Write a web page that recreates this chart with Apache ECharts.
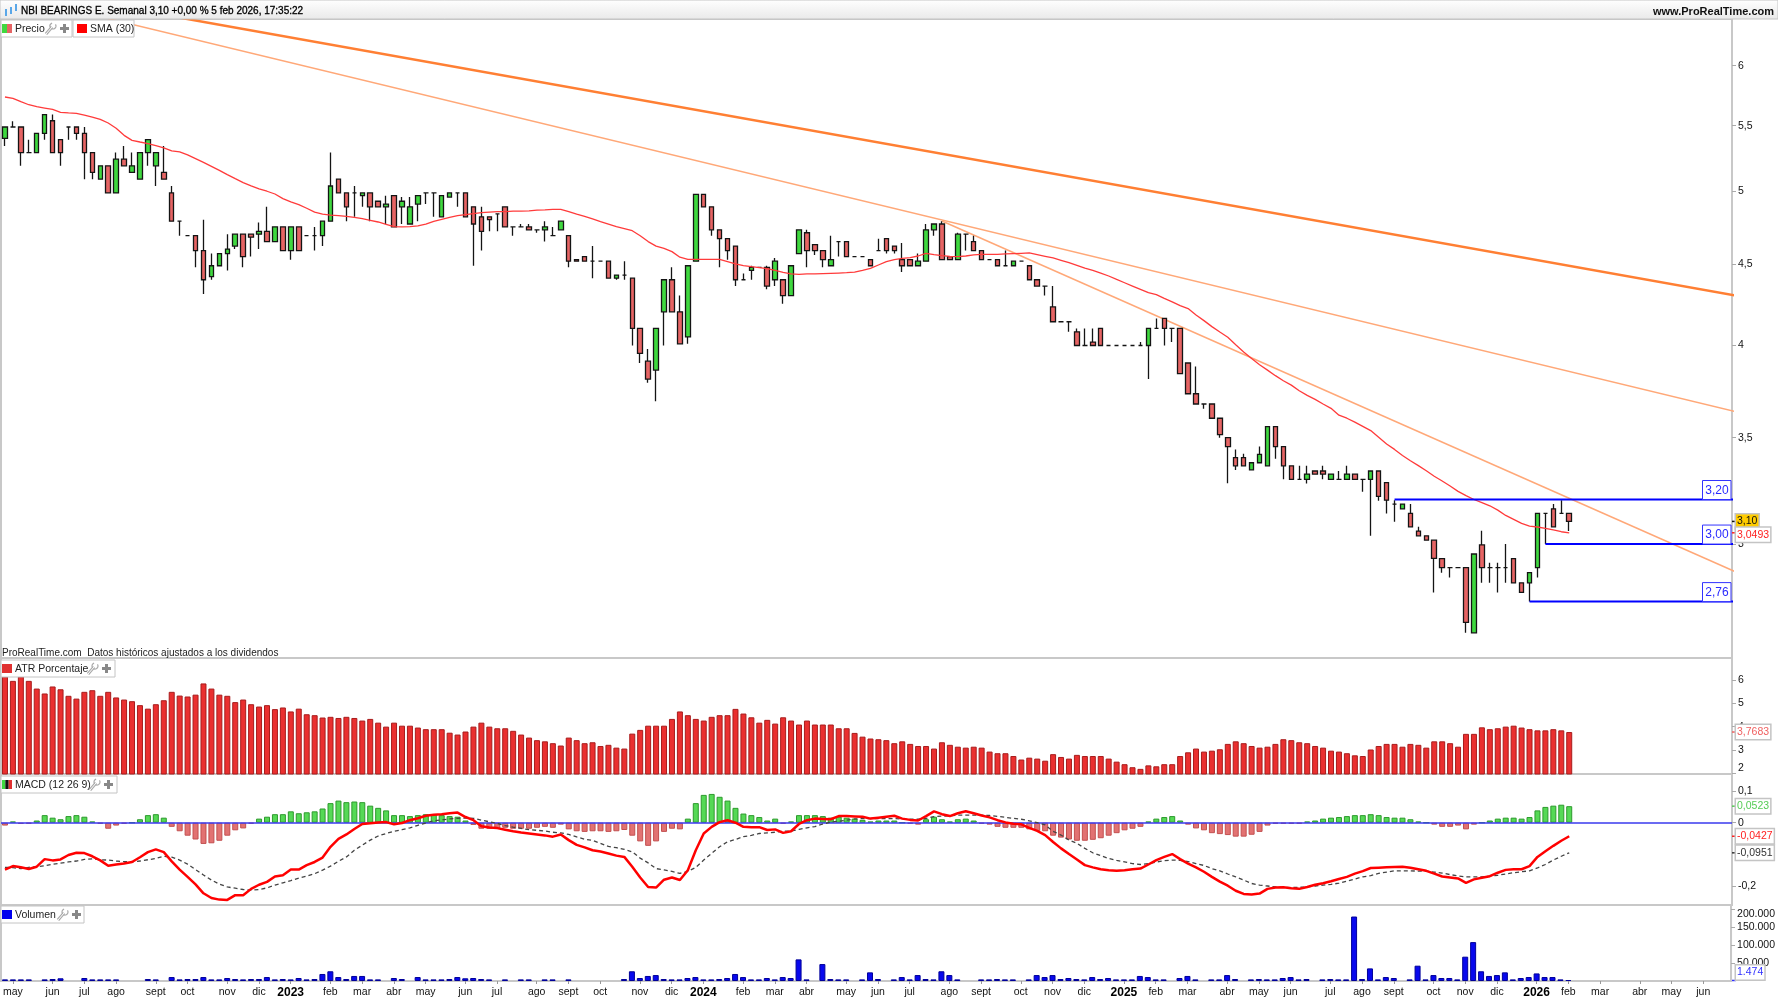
<!DOCTYPE html>
<html>
<head>
<meta charset="utf-8">
<title>NBI BEARINGS E.</title>
<script src="https://cdn.jsdelivr.net/npm/echarts@6/dist/echarts.min.js"></script>
<style>
html,body{margin:0;padding:0;background:#fff;}
#main{width:1778px;height:1000px;}
</style>
</head>
<body>
<div id="main"></div>
<script>
// semanal, una vela por semana desde may 2022
var opens=[5.40,5.49,5.49,5.29,5.29,5.44,5.54,5.39,5.49,5.49,
5.44,5.29,5.09,5.19,4.99,5.24,5.14,5.09,5.29,5.19,
5.14,4.99,4.79,4.69,4.69,4.59,4.42,4.49,4.57,4.62,
4.70,4.70,4.70,4.72,4.65,4.75,4.59,4.75,4.69,4.69,
4.69,4.79,5.09,4.99,4.99,4.97,4.99,4.93,4.89,4.97,
4.89,4.77,4.91,4.99,4.99,4.82,4.96,4.99,4.99,4.89,
4.82,4.82,4.84,4.89,4.75,4.75,4.75,4.73,4.73,4.69,
4.73,4.69,4.53,4.55,4.52,4.52,4.52,4.41,4.43,4.41,
4.10,3.91,3.86,4.20,4.40,4.20,4.05,4.52,4.98,4.89,
4.73,4.67,4.62,4.40,4.46,4.48,4.48,4.40,4.40,4.30,
4.57,4.71,4.63,4.59,4.49,4.65,4.65,4.55,4.55,4.53,
4.59,4.67,4.62,4.53,4.53,4.49,4.52,4.73,4.77,4.55,
4.53,4.70,4.65,4.59,4.53,4.53,4.49,4.49,4.52,4.49,
4.40,4.36,4.23,4.14,4.14,4.08,4.00,4.02,4.10,4.00,
4.00,4.00,4.00,4.00,4.00,4.10,4.16,4.10,4.10,3.90,
3.73,3.675,3.675,3.60,3.50,3.40,3.40,3.34,3.375,3.36,
3.556,3.455,3.36,3.295,3.295,3.335,3.335,3.295,3.295,3.295,
3.32,3.295,3.295,3.335,3.279,3.179,3.157,3.136,3.057,3.036,
3.017,2.937,2.899,2.899,2.899,2.638,2.996,2.899,2.899,2.899,
2.937,2.836,2.836,2.899,3.136,3.157,3.136,3.136];
var closes=[5.49,5.49,5.29,5.29,5.44,5.59,5.29,5.29,5.49,5.44,
5.29,5.14,5.19,4.99,5.24,5.19,5.19,5.29,5.39,5.29,
5.09,4.79,4.79,4.69,4.59,4.40,4.49,4.57,4.60,4.70,
4.55,4.68,4.72,4.65,4.75,4.59,4.75,4.59,4.69,4.69,
4.79,5.04,4.99,4.89,4.99,4.99,4.89,4.89,4.91,4.75,
4.93,4.89,4.97,4.99,4.99,4.97,4.99,4.99,4.82,4.77,
4.72,4.80,4.84,4.75,4.75,4.75,4.73,4.73,4.75,4.69,
4.79,4.52,4.52,4.52,4.52,4.52,4.41,4.43,4.43,4.10,
3.955,3.81,4.10,4.40,4.20,4.01,4.49,4.98,4.89,4.73,
4.67,4.59,4.40,4.40,4.48,4.48,4.36,4.52,4.30,4.49,
4.73,4.59,4.59,4.53,4.53,4.65,4.55,4.55,4.55,4.49,
4.59,4.59,4.59,4.49,4.49,4.52,4.73,4.77,4.53,4.53,
4.70,4.70,4.59,4.53,4.53,4.49,4.49,4.52,4.52,4.40,
4.36,4.36,4.14,4.14,4.14,4.00,4.00,4.00,4.00,4.00,
4.00,4.00,4.00,4.00,4.10,4.10,4.10,4.10,3.84,3.73,
3.675,3.675,3.60,3.515,3.455,3.36,3.36,3.375,3.416,3.556,
3.455,3.36,3.295,3.295,3.32,3.32,3.32,3.32,3.295,3.32,
3.295,3.295,3.335,3.215,3.197,3.179,3.179,3.076,3.036,3.017,
2.938,2.899,2.899,2.899,2.678,2.957,2.899,2.899,2.899,2.899,
2.836,2.797,2.878,3.136,3.136,3.076,3.136,3.10];
var lows=[5.34,5.49,5.19,5.29,5.29,5.39,5.29,5.19,5.39,5.39,
5.09,5.09,5.09,4.99,4.99,5.19,5.14,5.09,5.19,5.04,
5.09,4.79,4.69,4.69,4.48,4.31,4.40,4.49,4.46,4.60,
4.48,4.55,4.60,4.65,4.65,4.59,4.53,4.59,4.69,4.59,
4.62,4.79,4.99,4.79,4.82,4.89,4.79,4.89,4.77,4.75,
4.77,4.77,4.79,4.91,4.82,4.82,4.96,4.89,4.82,4.49,
4.59,4.72,4.72,4.75,4.69,4.75,4.73,4.71,4.65,4.69,
4.73,4.48,4.52,4.52,4.41,4.52,4.41,4.40,4.40,4.00,
3.90,3.79,3.69,4.00,4.20,4.01,4.01,4.52,4.89,4.69,
4.48,4.53,4.36,4.40,4.40,4.48,4.34,4.36,4.25,4.30,
4.57,4.48,4.56,4.48,4.49,4.55,4.55,4.55,4.55,4.49,
4.59,4.57,4.57,4.45,4.49,4.49,4.52,4.69,4.53,4.53,
4.53,4.59,4.59,4.53,4.53,4.49,4.49,4.49,4.52,4.40,
4.36,4.30,4.14,4.14,4.08,4.00,4.00,4.00,4.00,4.00,
4.00,4.00,4.00,4.00,3.81,4.10,4.00,4.02,3.84,3.73,
3.675,3.65,3.60,3.50,3.276,3.34,3.36,3.34,3.375,3.36,
3.395,3.295,3.295,3.295,3.275,3.32,3.295,3.295,3.295,3.295,
3.295,3.236,3.036,3.194,3.136,3.099,3.157,3.076,3.036,3.017,
2.797,2.878,2.858,2.899,2.638,2.638,2.836,2.836,2.797,2.836,
2.836,2.797,2.76,2.858,3.00,3.076,3.136,3.057];
var highs=[5.49,5.535,5.49,5.39,5.44,5.59,5.59,5.39,5.49,5.49,
5.49,5.29,5.19,5.19,5.29,5.34,5.29,5.29,5.39,5.29,
5.34,5.04,4.79,4.69,4.69,4.80,4.57,4.57,4.70,4.70,
4.70,4.70,4.78,4.89,4.75,4.75,4.75,4.75,4.69,4.75,
4.79,5.29,5.09,4.99,5.04,4.99,4.99,4.93,4.97,4.97,
4.96,4.96,4.97,4.99,4.99,4.97,4.99,4.99,4.99,4.89,
4.89,4.82,4.84,4.89,4.75,4.77,4.77,4.73,4.79,4.75,
4.79,4.69,4.53,4.55,4.62,4.52,4.52,4.43,4.52,4.41,
4.10,3.98,4.10,4.40,4.48,4.30,4.49,4.98,4.98,4.89,
4.73,4.67,4.62,4.44,4.49,4.48,4.49,4.54,4.40,4.49,
4.73,4.73,4.63,4.59,4.69,4.65,4.65,4.55,4.55,4.53,
4.67,4.67,4.62,4.64,4.53,4.57,4.77,4.77,4.79,4.55,
4.71,4.70,4.69,4.59,4.53,4.53,4.59,4.52,4.52,4.49,
4.40,4.36,4.36,4.14,4.14,4.10,4.10,4.10,4.10,4.00,
4.00,4.00,4.00,4.02,4.10,4.16,4.16,4.10,4.10,3.90,
3.88,3.675,3.675,3.60,3.50,3.44,3.42,3.375,3.455,3.556,
3.556,3.455,3.36,3.36,3.36,3.335,3.36,3.32,3.335,3.36,
3.32,3.295,3.335,3.335,3.279,3.197,3.179,3.179,3.076,3.036,
3.017,2.937,2.899,2.899,2.899,2.957,3.058,2.92,2.92,3.00,
2.937,2.836,2.878,3.136,3.136,3.179,3.197,3.136];
var sma30=[5.734,5.723,5.695,5.670,5.654,5.643,5.632,5.608,5.603,5.600,
5.586,5.570,5.551,5.522,5.480,5.424,5.385,5.372,5.360,5.344,
5.326,5.303,5.295,5.272,5.244,5.216,5.186,5.156,5.124,5.094,
5.065,5.041,5.019,5.002,4.982,4.949,4.925,4.906,4.880,4.853,
4.839,4.832,4.828,4.823,4.816,4.807,4.796,4.784,4.768,4.752,
4.750,4.752,4.757,4.770,4.789,4.803,4.816,4.828,4.835,4.842,
4.849,4.853,4.856,4.856,4.860,4.860,4.862,4.867,4.869,4.872,
4.872,4.856,4.839,4.823,4.805,4.787,4.770,4.752,4.738,4.724,
4.690,4.650,4.620,4.605,4.583,4.546,4.532,4.532,4.532,4.532,
4.532,4.517,4.502,4.491,4.484,4.478,4.471,4.460,4.447,4.437,
4.434,4.437,4.437,4.439,4.441,4.443,4.445,4.449,4.460,4.473,
4.495,4.517,4.530,4.539,4.543,4.554,4.572,4.563,4.557,4.552,
4.550,4.554,4.561,4.565,4.565,4.565,4.568,4.570,4.572,4.574,
4.563,4.552,4.541,4.526,4.510,4.493,4.475,4.460,4.443,4.424,
4.402,4.381,4.360,4.339,4.318,4.306,4.283,4.261,4.238,4.220,
4.181,4.147,4.111,4.079,4.048,4.005,3.963,3.925,3.890,3.860,
3.829,3.801,3.777,3.746,3.721,3.700,3.675,3.652,3.616,3.600,
3.580,3.558,3.536,3.502,3.468,3.441,3.411,3.385,3.361,3.336,
3.310,3.287,3.263,3.238,3.218,3.200,3.186,3.171,3.151,3.127,
3.109,3.091,3.079,3.075,3.069,3.062,3.054,3.0493];
var atr=[6.15,5.96,6.15,5.96,5.63,5.42,5.72,5.60,5.32,5.20,
5.49,5.56,5.32,5.49,5.25,5.16,5.09,4.92,4.77,4.96,
5.13,5.49,5.33,5.29,5.37,5.85,5.63,5.37,5.32,5.05,
5.16,4.96,4.86,4.92,4.75,4.82,4.65,4.77,4.53,4.49,
4.39,4.42,4.37,4.42,4.37,4.26,4.33,4.17,4.00,4.17,
4.04,4.04,3.96,3.89,3.89,3.89,3.74,3.66,3.79,4.00,
4.17,4.00,3.93,3.93,3.82,3.66,3.53,3.42,3.37,3.29,
3.19,3.53,3.42,3.29,3.33,3.17,3.22,3.10,3.06,3.70,
3.86,4.04,4.04,4.04,4.33,4.65,4.49,4.33,4.26,4.42,
4.49,4.49,4.76,4.56,4.40,4.17,4.29,4.13,4.40,4.26,
4.09,4.26,4.09,4.09,4.09,3.93,3.93,3.73,3.57,3.49,
3.46,3.42,3.29,3.37,3.26,3.17,3.17,3.06,3.33,3.22,
3.14,3.10,3.14,3.10,2.93,2.86,2.86,2.74,2.59,2.67,
2.63,2.54,2.82,2.70,2.63,2.79,2.74,2.74,2.74,2.63,
2.50,2.39,2.26,2.19,2.34,2.30,2.39,2.39,2.74,2.90,
3.06,2.93,2.97,3.03,3.26,3.37,3.29,3.17,3.10,3.14,
3.26,3.46,3.42,3.33,3.29,3.17,3.10,2.97,2.93,2.86,
2.77,2.74,3.02,3.17,3.26,3.26,3.14,3.26,3.22,3.10,
3.37,3.37,3.29,3.14,3.69,3.69,3.97,3.89,3.93,4.00,
4.04,3.96,3.89,3.84,3.84,3.89,3.84,3.7683];
var macdHist=[-.009,.004,-.004,-.003,.007,.024,.016,.011,.021,.024,
.019,.004,-.003,-.019,-.009,-.003,0,.011,.024,.027,
.016,-.013,-.027,-.041,-.053,-.067,-.065,-.057,-.041,-.024,
-.018,-.003,.013,.019,.027,.027,.036,.030,.033,.036,
.045,.062,.070,.065,.067,.065,.054,.047,.039,.024,
.024,.021,.024,.027,.027,.024,.021,.019,.007,-.007,
-.019,-.019,-.019,-.016,-.019,-.019,-.019,-.016,-.013,-.016,
-.006,-.021,-.027,-.029,-.027,-.027,-.029,-.027,-.023,-.041,
-.059,-.073,-.059,-.029,-.019,-.021,.013,.062,.088,.091,
.082,.070,.047,.029,.024,.018,.007,.013,-.003,.004,
.024,.024,.024,.021,.016,.019,.016,.013,.009,.004,
.007,.007,.007,0,-.003,-.006,.011,.019,.011,.004,
.011,.013,.007,-.003,-.006,-.013,-.016,-.016,-.016,-.021,
-.026,-.027,-.041,-.047,-.053,-.057,-.057,-.054,-.049,-.041,
-.033,-.024,-.019,-.013,.004,.013,.018,.021,.007,-.006,
-.018,-.024,-.033,-.036,-.039,-.044,-.044,-.038,-.029,-.009,
-.003,-.003,-.003,-.003,.004,.007,.013,.016,.018,.021,
.024,.024,.027,.024,.018,.016,.016,.011,.004,0,
-.006,-.013,-.013,-.009,-.021,-.006,0,.007,.013,.016,
.016,.013,.018,.039,.050,.054,.057,.0523];
var macdLine=[-.148,-.137,-.141,-.146,-.139,-.115,-.119,-.116,-.102,-.095,
-.096,-.106,-.119,-.136,-.132,-.129,-.124,-.109,-.093,-.084,
-.093,-.122,-.148,-.171,-.195,-.223,-.238,-.243,-.244,-.229,
-.229,-.209,-.196,-.187,-.170,-.166,-.148,-.148,-.134,-.124,
-.110,-.076,-.051,-.037,-.020,-.004,-.002,.001,.002,-.005,
-.001,.008,.014,.022,.025,.027,.030,.032,.018,.008,
-.011,-.015,-.017,-.022,-.027,-.031,-.034,-.037,-.040,-.044,
-.037,-.055,-.070,-.078,-.087,-.091,-.097,-.104,-.108,-.139,
-.173,-.203,-.205,-.180,-.173,-.181,-.150,-.087,-.034,-.013,
.002,.008,0,-.013,-.014,-.014,-.023,-.021,-.032,-.027,
-.004,.008,.013,.012,.011,.021,.021,.020,.019,.013,
.016,.019,.022,.013,.009,.007,.021,.036,.027,.021,
.030,.036,.030,.023,.017,.008,.001,-.003,-.005,-.016,
-.026,-.039,-.061,-.081,-.099,-.116,-.134,-.141,-.147,-.150,
-.152,-.150,-.147,-.145,-.132,-.118,-.108,-.099,-.115,-.129,
-.141,-.155,-.171,-.186,-.199,-.215,-.225,-.227,-.224,-.209,
-.205,-.204,-.207,-.209,-.203,-.196,-.191,-.185,-.178,-.171,
-.161,-.153,-.143,-.142,-.141,-.140,-.139,-.142,-.147,-.152,
-.161,-.170,-.173,-.176,-.190,-.179,-.174,-.169,-.158,-.149,
-.147,-.147,-.137,-.108,-.090,-.073,-.057,-.0427];
var macdSignal=[-.141,-.142,-.145,-.141,-.139,-.136,-.131,-.128,-.124,-.121,
-.116,-.114,-.117,-.118,-.121,-.123,-.124,-.121,-.117,-.113,
-.106,-.109,-.118,-.131,-.148,-.165,-.181,-.194,-.203,-.207,
-.211,-.213,-.211,-.206,-.197,-.190,-.183,-.175,-.169,-.161,
-.150,-.137,-.122,-.108,-.087,-.071,-.055,-.042,-.034,-.027,
-.022,-.016,-.008,-.001,.006,.009,.012,.014,.015,.014,
.008,.003,-.002,-.009,-.014,-.018,-.022,-.024,-.026,-.030,
-.032,-.037,-.045,-.052,-.056,-.065,-.075,-.079,-.084,-.092,
-.112,-.127,-.145,-.149,-.154,-.160,-.154,-.141,-.118,-.097,
-.076,-.060,-.053,-.044,-.040,-.034,-.032,-.030,-.027,-.026,
-.021,-.016,-.012,-.004,.002,.005,.008,.012,.013,.013,
.013,.013,.013,.012,.011,.011,.014,.019,.021,.022,
.024,.024,.024,.024,.023,.020,.017,.014,.011,.006,
0,-.007,-.027,-.039,-.055,-.065,-.081,-.095,-.104,-.113,
-.119,-.124,-.129,-.132,-.129,-.124,-.120,-.118,-.119,-.123,
-.129,-.135,-.145,-.152,-.162,-.171,-.181,-.192,-.197,-.200,
-.203,-.204,-.205,-.204,-.203,-.200,-.197,-.195,-.191,-.185,
-.178,-.171,-.167,-.160,-.156,-.152,-.152,-.152,-.153,-.153,
-.156,-.159,-.164,-.168,-.171,-.171,-.171,-.169,-.166,-.162,
-.158,-.155,-.152,-.143,-.132,-.118,-.106,-.0951];
var volume=[4500,4500,4500,4500,null,4500,5500,7500,null,null,
8300,4500,4500,4500,4500,null,null,null,5500,4500,
null,11000,4500,5500,5500,11000,4500,4500,8300,5500,
4500,5500,5500,11000,4500,5500,4500,8300,4500,5500,
19500,27000,11000,5500,14000,14000,4500,4500,null,8300,
5500,null,11000,4500,4500,4500,5500,11000,7500,8300,
5500,4500,null,4500,null,4500,4500,null,4500,4500,
null,4500,null,null,null,null,null,null,5500,27000,
8300,14000,16500,5500,4500,4500,8300,11000,4500,4500,
5500,8300,19500,11000,4500,4500,8300,4500,11000,8300,
60000,4500,null,47000,5500,4500,4500,null,4500,24000,
5500,null,4500,11000,4500,16500,5500,4500,27000,16500,
4500,null,null,4500,4500,5500,4500,4500,null,4500,
16500,11000,16500,5500,8300,5500,4500,11000,5500,8300,
4500,4500,4500,14000,11000,4500,4500,null,8300,14000,
4500,null,4500,4500,16500,5500,null,4500,5500,4500,
4500,8300,11000,4500,5500,null,4500,5500,4500,4500,
179000,5500,35000,4500,11000,8300,null,4500,42500,4500,
16500,8300,8300,4500,67500,108000,27000,14000,16500,24000,
4500,8300,11000,21000,11000,11000,4500,1474];
// meses del eje: [indice de semana, etiqueta]
var monthTicks=[[1,'may'],[6,'jun'],[10,'jul'],[14,'ago'],[19,'sept'],[23,'oct'],[28,'nov'],[32,'dic'],[36,'2023'],
[41,'feb'],[45,'mar'],[49,'abr'],[53,'may'],[58,'jun'],[62,'jul'],[67,'ago'],[71,'sept'],[75,'oct'],[80,'nov'],[84,'dic'],[88,'2024'],
[93,'feb'],[97,'mar'],[101,'abr'],[106,'may'],[110,'jun'],[114,'jul'],[119,'ago'],[123,'sept'],[128,'oct'],[132,'nov'],[136,'dic'],[141,'2025'],
[145,'feb'],[149,'mar'],[154,'abr'],[158,'may'],[162,'jun'],[167,'jul'],[171,'ago'],[175,'sept'],[180,'oct'],[184,'nov'],[188,'dic'],[193,'2026'],
[197,'feb'],[201,'mar'],[206,'abr'],[210,'may'],[214,'jun']];
var priceTicks=[3,3.5,4,4.5,5,5.5,6];
var atrTicks=[2,3,4,5,6];
var macdTicks=[-0.2,0,0.1];
var volTicks=[50000,100000,150000,200000];
// lineas de tendencia y niveles [semana, precio]
var trendMain=[[0,6.73],[218,4.30]];
var trendUpper=[[0,6.66],[218,3.634]];
var trendLower=[[118,4.791],[218,2.881]];
var level320=[[175,3.20],[218,3.20]];
var level300=[[194,3.00],[218,3.00]];
var level276=[[192,2.76],[218,2.76]];

var FONT='"Liberation Sans",Arial,sans-serif';
var N_CATS=218;
var cats=[],tickMap={};
for(var i=0;i<monthTicks.length;i++){tickMap[monthTicks[i][0]]=monthTicks[i][1];}
for(var i=0;i<N_CATS;i++){cats.push(String(i));}

var candles=[];
for(var i=0;i<opens.length;i++){candles.push([opens[i],closes[i],lows[i],highs[i]]);}
var histBars=macdHist.map(function(v){
    var up=v>=0;
    return {value:v,itemStyle:{color:up?'#55d955':'#e27272',borderColor:up?'#2d9a2d':'#c25050',borderWidth:1}};
});

function comma(v){return String(v).replace('.',',');}

var gridL=1,gridR=46;
var grids=[
    {left:gridL,right:gridR,top:19,height:639},
    {left:gridL,right:gridR,top:658,height:116},
    {left:gridL,right:gridR,top:774,height:131},
    {left:gridL,right:gridR,top:905,height:76}
];
grids.forEach(function(g){g.show=true;g.borderColor='#c8c8c8';g.borderWidth=2;g.backgroundColor='#fff';});

function xAxis(idx,last){
    return {type:'category',gridIndex:idx,data:cats,boundaryGap:true,
        axisLine:{show:false},
        axisTick:{show:last,alignWithLabel:true,length:3,lineStyle:{color:'#999'},
            interval:function(i){return tickMap[i]!==undefined;}},
        axisLabel:{show:last,margin:6,color:'#111',fontFamily:FONT,fontSize:10.5,hideOverlap:false,
            interval:function(i){return tickMap[i]!==undefined;},
            formatter:function(v,i){
                var t=tickMap[i];
                if(t===undefined){return '';}
                return /^\d+$/.test(t)?'{y|'+t+'}':t;
            },
            rich:{y:{fontWeight:'bold',fontSize:12,fontFamily:FONT,color:'#000'}}
        },
        splitLine:{show:false}
    };
}
function yAxis(idx,cfg){
    var a={gridIndex:idx,position:'right',scale:true,
        axisLine:{show:true,lineStyle:{color:'#c8c8c8',width:2}},
        axisTick:{show:true,length:4,lineStyle:{color:'#aaa'},customValues:cfg.ticks},
        axisLabel:{show:true,margin:6,color:'#111',fontFamily:FONT,fontSize:10.5,hideOverlap:false,customValues:cfg.ticks,
            formatter:cfg.fmt,rich:cfg.rich,showMinLabel:true,showMaxLabel:true},
        splitLine:{show:false},min:cfg.min,max:cfg.max,type:cfg.type||'value'};
    return a;
}

var option={
    animation:false,
    backgroundColor:'#fff',
    textStyle:{fontFamily:FONT},
    grid:grids,
    xAxis:[xAxis(0,false),xAxis(1,false),xAxis(2,false),xAxis(3,true)],
    yAxis:[
        yAxis(0,{type:'log',min:2.5434,max:6.42,ticks:priceTicks,fmt:function(v){return comma(v);}}),
        yAxis(1,{min:1.97,max:6.94,ticks:atrTicks,
            fmt:function(v){return v===2?'{lo|2}':String(v);},
            rich:{lo:{padding:[0,0,10,0],fontSize:10.5,color:'#111'}}}),
        yAxis(2,{min:-0.26,max:0.154,ticks:macdTicks,fmt:function(v){return comma(v);}}),
        yAxis(3,{min:0,max:211000,ticks:volTicks,
            fmt:function(v){
                var s=String(v/1000)+'.000';
                return v===200000?'{hi|'+s+'}':s;
            },
            rich:{hi:{padding:[10,0,0,0],fontSize:10.5,color:'#111'}}})
    ],
    series:[
        {type:'candlestick',name:'Precio',xAxisIndex:0,yAxisIndex:0,data:candles,barWidth:5,z:3,
            itemStyle:{color:'#3fd83f',color0:'#e66464',borderColor:'#141414',borderColor0:'#141414',borderColorDoji:'#141414',borderWidth:1.3}},
        {type:'line',name:'SMA (30)',xAxisIndex:0,yAxisIndex:0,data:sma30,showSymbol:false,z:4,lineStyle:{color:'#ff3b3b',width:1.3}},
        {type:'line',xAxisIndex:0,yAxisIndex:0,data:trendMain,showSymbol:false,z:2,lineStyle:{color:'#ff7f33',width:2.5}},
        {type:'line',xAxisIndex:0,yAxisIndex:0,data:trendUpper,showSymbol:false,z:2,lineStyle:{color:'#ffa878',width:1.5}},
        {type:'line',xAxisIndex:0,yAxisIndex:0,data:trendLower,showSymbol:false,z:2,lineStyle:{color:'#ffa878',width:1.5}},
        {type:'line',xAxisIndex:0,yAxisIndex:0,data:level320,showSymbol:false,z:5,lineStyle:{color:'#0000ff',width:2}},
        {type:'line',xAxisIndex:0,yAxisIndex:0,data:level300,showSymbol:false,z:5,lineStyle:{color:'#0000ff',width:2}},
        {type:'line',xAxisIndex:0,yAxisIndex:0,data:level276,showSymbol:false,z:5,lineStyle:{color:'#0000ff',width:2}},
        {type:'bar',name:'ATR Porcentaje',xAxisIndex:1,yAxisIndex:1,data:atr,barWidth:6,
            itemStyle:{color:'#ea2f2f',borderColor:'#a81c1c',borderWidth:1}},
        {type:'bar',name:'MACD',xAxisIndex:2,yAxisIndex:2,data:histBars,barWidth:6,z:2,
            markLine:{silent:true,symbol:'none',label:{show:false},lineStyle:{color:'#3a3aee',width:1.5,type:'solid'},data:[{yAxis:0}],z:3}},
        {type:'line',xAxisIndex:2,yAxisIndex:2,data:macdSignal,showSymbol:false,z:3,lineStyle:{color:'#444',width:1.3,type:[4,3]}},
        {type:'line',xAxisIndex:2,yAxisIndex:2,data:macdLine,showSymbol:false,z:4,lineStyle:{color:'#ff0000',width:2.5}},
        {type:'bar',name:'Volumen',xAxisIndex:3,yAxisIndex:3,data:volume,barWidth:6,barMinHeight:1,
            itemStyle:{color:'#0808ee',borderColor:'#000099',borderWidth:1}}
    ]
};

var chart=echarts.init(document.getElementById('main'),null,{renderer:'canvas'});
chart.setOption(option);

// cabecera, leyendas y etiquetas del eje
var gfx=[];
function rect(x,y,w,h,style,z){gfx.push({type:'rect',shape:{x:x,y:y,width:w,height:h},style:style,z:z||50,silent:true});}
function seg(x1,y1,x2,y2,c,w,z){gfx.push({type:'line',shape:{x1:x1,y1:y1,x2:x2,y2:y2},z:z||51,silent:true,style:{stroke:c,lineWidth:w}});}
function text(x,y,s,o){
    gfx.push({type:'text',x:x,y:y,z:(o&&o.z)||52,silent:true,style:{text:s,fill:(o&&o.fill)||'#222',font:(o&&o.font)||('10.5px '+FONT),
        verticalAlign:'middle',align:(o&&o.align)||'left',stroke:o&&o.stroke,lineWidth:o&&o.stroke?0.3:0}});
}
function chip(x,y,w,h,label,swatches,iconX,inset){
    inset=inset||1;
    rect(x,y,w,h,{fill:'#fff',stroke:'#c4c4c4',lineWidth:1},50);
    var sw=10/swatches.length;
    swatches.forEach(function(c,k){rect(x+inset+k*sw,y+4,sw,9,{fill:c},51);});
    text(x+inset+13,y+h/2+0.5,label);
    if(iconX){
        // llave y cruz
        seg(iconX+1,y+14,iconX+7,y+7,'#aaa',3);
        seg(iconX+1,y+14,iconX+7,y+7,'#fff',1,52);
        gfx.push({type:'arc',shape:{cx:iconX+8,cy:y+6,r:3,startAngle:-0.6,endAngle:4.4},z:51,silent:true,style:{stroke:'#aaa',fill:null,lineWidth:1.2}});
        rect(iconX+15,y+7,9,3,{fill:'#888'},51);
        rect(iconX+18,y+4,3,9,{fill:'#888'},51);
    }
}
function tag(s,val,axisIdx,o){
    var y=chart.convertToPixel({yAxisIndex:axisIdx},val);
    var dy=o.dy||0;
    seg(1732,y,1736,y,o.fill,1.5,53);
    gfx.push({type:'text',x:1736,y:y+dy,z:54,silent:true,style:{text:s,fill:o.fill,font:'10.5px '+FONT,
        verticalAlign:'middle',backgroundColor:o.bg||'#fff',borderColor:'#c4c4c4',borderWidth:1.5,padding:[2,1,1,1]}});
}
function levelBox(s,val){
    var y=chart.convertToPixel({yAxisIndex:0},val);
    rect(1702.5,y-19,28.5,19,{fill:'#fff',stroke:'#3333ff',lineWidth:1},40);
    text(1717,y-9,s,{fill:'#2a2aff',font:'12px '+FONT,align:'center',z:41});
}

gfx.push({type:'rect',shape:{x:0,y:0,width:1778,height:19},z:49,silent:true,style:{
    fill:new echarts.graphic.LinearGradient(0,0,0,1,[{offset:0,color:'#ffffff'},{offset:1,color:'#e9e9e9'}]),stroke:'#c4c4c4',lineWidth:1}});
rect(5,9,2,7,{fill:'#5aa7e8'},51);rect(10,7,2,7,{fill:'#5aa7e8'},51);rect(15,4,2,7,{fill:'#5aa7e8'},51);
text(21,11.5,'NBI BEARINGS E. Semanal 3,10 +0,00 % 5 feb 2026, 17:35:22',{font:'10px '+FONT,fill:'#000',stroke:'#000'});
text(1774,11.5,'www.ProRealTime.com',{font:'bold 11px '+FONT,align:'right',fill:'#111'});
text(2,653,'ProRealTime.com  Datos históricos ajustados a los dividendos',{font:'10px '+FONT});

chip(1,20,71,17,'Precio',['#3fd83f','#e66464'],45);
chip(73,20,61,17,'SMA (30)',['#ff0000'],null,4);
chip(1,660,114,17,'ATR Porcentaje',['#e03030'],87);
chip(1,776,116,17,'MACD (12 26 9)',['#3fd83f','#111','#e03030'],89);
chip(1,906,83,17,'Volumen',['#0000ee'],57);

levelBox('3,20',3.20);
levelBox('3,00',3.00);
levelBox('2,76',2.76);
tag('3,10',3.10,0,{fill:'#111',bg:'#ffcc00'});
tag('3,0493',3.0493,0,{fill:'#ff2020',dy:2});
tag('3,7683',3.7683,1,{fill:'#f06060'});
tag('0,0523',0.0523,2,{fill:'#55cc55'});
tag('-0,0427',-0.0427,2,{fill:'#ff2020'});
tag('-0,0951',-0.0951,2,{fill:'#333'});
tag('1.474',1474,3,{fill:'#3030ff',dy:-8});

chart.setOption({graphic:{elements:gfx}});
window.onresize=function(){chart.resize();};
</script>
</body>
</html>
